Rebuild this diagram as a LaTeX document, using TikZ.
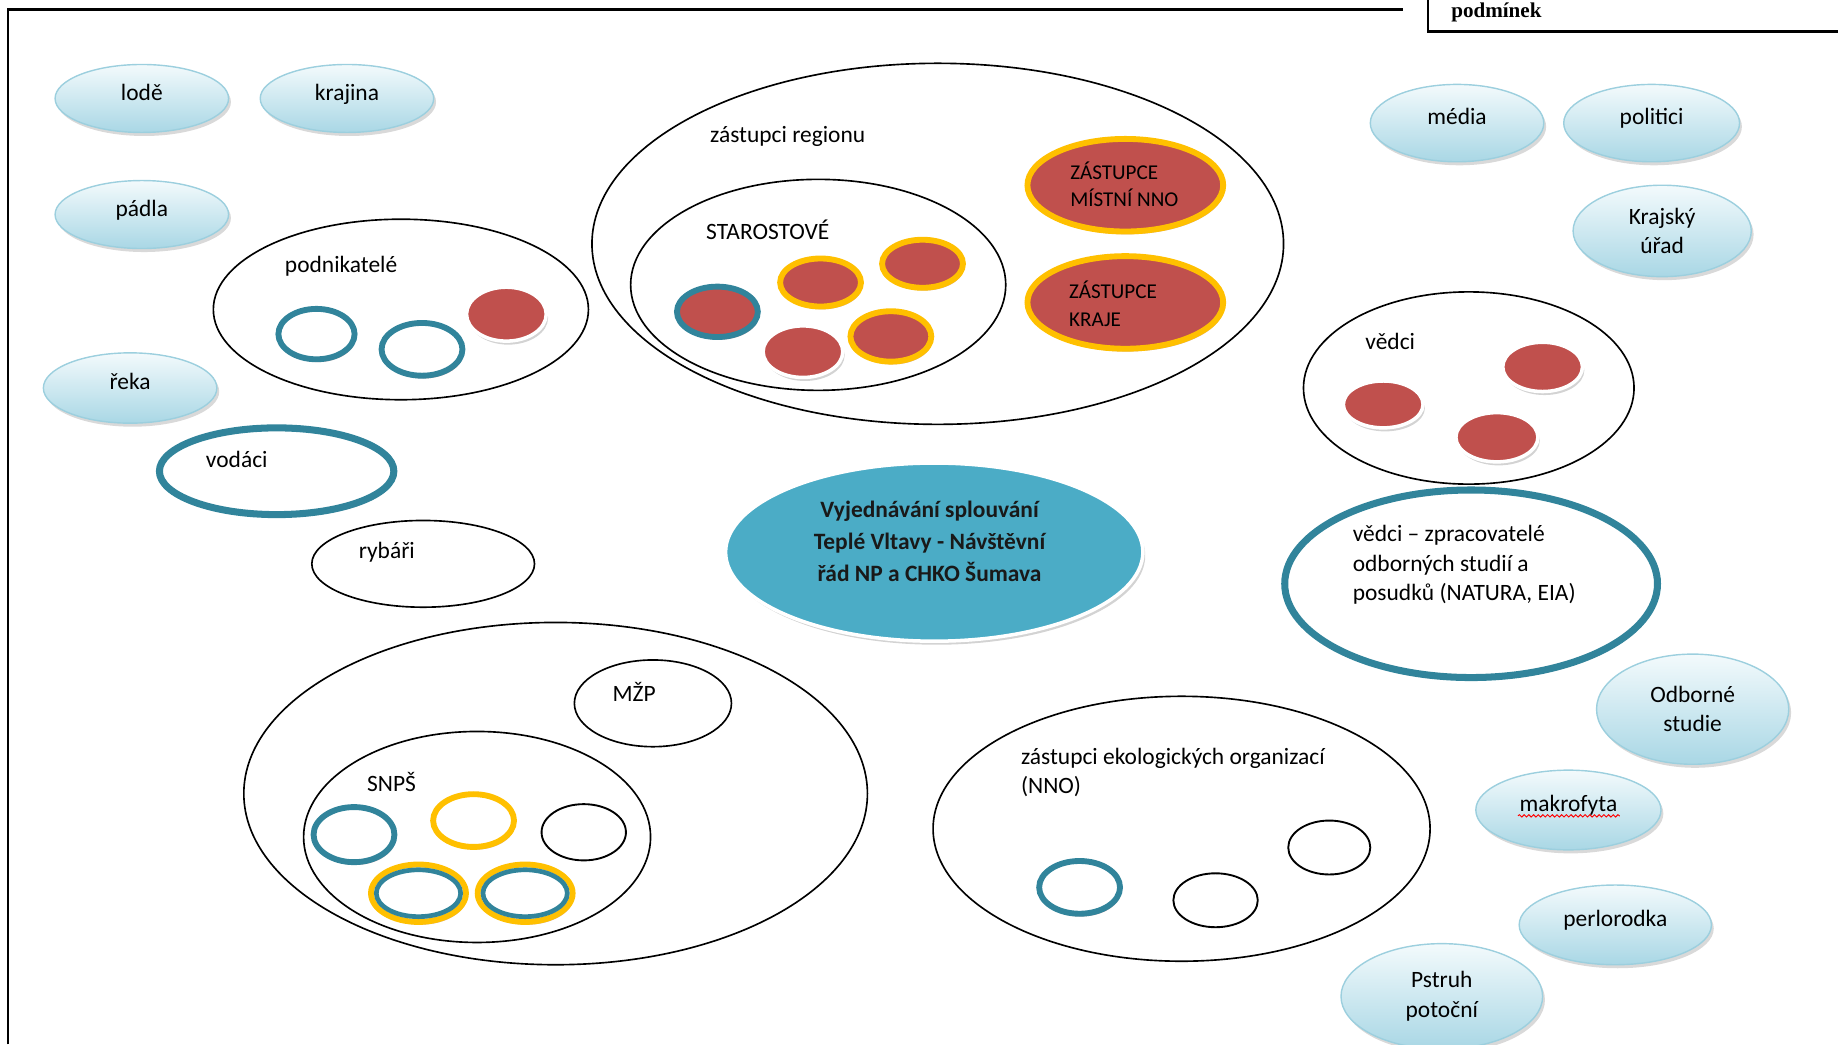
\documentclass[tikz,border=0pt]{standalone}
\usepackage{fontspec}
\setmainfont{Carlito}
\newfontfamily\timesfont{Liberation Serif}
\usetikzlibrary{shapes.geometric}
\usetikzlibrary{shadows}
\usetikzlibrary{decorations.pathmorphing}

\definecolor{tealcol}{HTML}{31849B}
\definecolor{redcol}{HTML}{C0504D}
\definecolor{goldcol}{HTML}{FFC000}
\definecolor{centercol}{HTML}{4BACC6}
\definecolor{bubbletop}{HTML}{F3FAFC}
\definecolor{bubblebot}{HTML}{A9D7E5}
\definecolor{bubbleline}{HTML}{9CCFDE}

\tikzset{
  oval/.style={ellipse, inner sep=0pt, outer sep=0pt},
  bubble/.style={oval, top color=bubbletop, bottom color=bubblebot, draw=bubbleline, line width=0.6pt, align=center,
    drop shadow={shadow xshift=1pt, shadow yshift=-1.5pt, opacity=0.3}},
  onebubble/.style={bubble, text depth=0.55em},
  group/.style={oval, draw=black, line width=0.7pt},
  ringshadow/.style={drop shadow={shadow xshift=0.6pt, shadow yshift=-1.2pt, fill=redcol!60!gray, opacity=0.45}},
  tring/.style={oval, draw=tealcol, line width=2.5pt, fill=white, ringshadow},
  gring/.style={oval, draw=goldcol, line width=2.5pt, fill=white, ringshadow},
  rdot/.style={oval, draw=white, line width=1.5pt, fill=redcol,
    drop shadow={shadow xshift=0.8pt, shadow yshift=-1.5pt, fill=gray, opacity=0.35}},
  grdot/.style={oval, draw=goldcol, line width=2.5pt, fill=redcol, ringshadow},
  trdot/.style={oval, draw=tealcol, line width=2.5pt, fill=redcol, ringshadow},
  spell/.style={draw=red, line width=0.4pt, decorate, decoration={snake, amplitude=0.5pt, segment length=2pt}}
}

\begin{document}
\begin{tikzpicture}[x=0.5pt, y=-0.5pt, font=\fontsize{10}{12.5}\selectfont]

    \useasboundingbox (0,0) rectangle (1568,891);

    % frame
    \draw[line width=1pt] (7,891) -- (7,8) -- (1197,8);
    \draw[line width=1pt] (1218,0) -- (1218,27) -- (1568,27);
    \node[font={\fontsize{9}{10}\timesfont\bfseries}, anchor=base west] (podminek) at (1231,15) {podmínek};

    % bubbles
    \node[onebubble, minimum width=74pt, minimum height=29pt] (lode) at (121,84) {lodě};
    \node[onebubble, minimum width=74pt, minimum height=29pt] (krajina) at (296,84) {krajina};
    \node[onebubble, minimum width=74pt, minimum height=29pt] (padla) at (121,183) {pádla};
    \node[onebubble, minimum width=74pt, minimum height=30pt] (reka) at (111,331) {řeka};
    \node[onebubble, minimum width=74pt, minimum height=33pt] (media) at (1243,105) {média};
    \node[onebubble, minimum width=75pt, minimum height=33pt] (politici) at (1409,105) {politici};
    \node[bubble, minimum width=76pt, minimum height=39pt] (krajsky) at (1418,197) {Krajský\\úřad};
    \node[bubble, minimum width=82pt, minimum height=47pt] (odborne) at (1444,605) {Odborné\\studie};
    \node[onebubble, minimum width=79pt, minimum height=34pt] (makrofyta) at (1338,691) {makrofyta};
    \node[onebubble, minimum width=82pt, minimum height=34pt] (perlorodka) at (1378,789) {perlorodka};
    \node[bubble, minimum width=86pt, minimum height=45pt] (pstruh) at (1230,850) {Pstruh\\potoční};
    \draw[spell] ([shift={(-21.5pt,-2.5pt)}]makrofyta.center) -- ([shift={(22pt,-2.5pt)}]makrofyta.center);

    % podnikatele
    \node[group, minimum width=160pt, minimum height=77pt] (podnikatele) at (342,264) {};
    \node (podnikateleText) at (291,227) {podnikatelé};
    \node[tring, minimum width=32.5pt, minimum height=21.5pt] (podA) at (270,285) {};
    \node[tring, minimum width=34.5pt, minimum height=22.5pt] (podB) at (360,298) {};
    \node[rdot, minimum width=34pt, minimum height=23pt] (podC) at (432,268) {};

    % zastupci regionu
    \node[group, minimum width=295pt, minimum height=154pt] (region) at (800,208) {};
    \node (regionText) at (672,116) {zástupci regionu};
    \node[group, minimum width=160pt, minimum height=90pt] (starostove) at (698,243) {};
    \node (starostoveText) at (655,196) {STAROSTOVÉ};
    \node[trdot, minimum width=34.5pt, minimum height=21.5pt] (staroA) at (612,266) {};
    \node[grdot, minimum width=34.5pt, minimum height=20.5pt] (staroB) at (700,241) {};
    \node[grdot, minimum width=34.5pt, minimum height=20.5pt] (staroC) at (787,225) {};
    \node[rdot, minimum width=34pt, minimum height=22pt] (staroD) at (685,300) {};
    \node[grdot, minimum width=34.5pt, minimum height=21.5pt] (staroE) at (760,287) {};
    \node[grdot, minimum width=83.5pt, minimum height=39.5pt] (mistni) at (960,158) {};
    \node[anchor=west, align=left, font=\fontsize{9}{11.5}\selectfont] (mistniText) at (906,157) {ZÁSTUPCE\\MÍSTNÍ NNO};
    \node[grdot, minimum width=83.5pt, minimum height=39.5pt] (kraj) at (960,258) {};
    \node[anchor=west, align=left, font=\fontsize{9}{12}\selectfont] (krajText) at (905,259) {ZÁSTUPCE\\KRAJE};

    % vodaci, rybari
    \node[tring, line width=3pt, minimum width=100pt, minimum height=37pt] (vodaci) at (236,402) {};
    \node (vodaciText) at (202,392) {vodáci};
    \node[group, minimum width=95pt, minimum height=37pt] (rybari) at (361,481) {};
    \node (rybariText) at (330,471) {rybáři};

    % vedci
    \node[group, minimum width=141pt, minimum height=82pt] (vedci) at (1253,331) {};
    \node (vedciText) at (1186,291) {vědci};
    \node[rdot, minimum width=34pt, minimum height=20pt] (vedciA) at (1180,345) {};
    \node[rdot, minimum width=34pt, minimum height=21pt] (vedciB) at (1316,313) {};
    \node[rdot, minimum width=35pt, minimum height=21pt] (vedciC) at (1277,373) {};
    \node[tring, line width=3pt, minimum width=159pt, minimum height=80pt] (zpracovatele) at (1255,498) {};
    \node[anchor=west, align=left] (zpracovateleText) at (1147,482) {vědci – zpracovatelé\\odborných studií a\\posudků (NATURA, EIA)};

    % center
    \node[oval, fill=centercol, draw=white, line width=1.5pt, minimum width=178pt, minimum height=76pt,
      drop shadow={shadow xshift=1pt, shadow yshift=-1.5pt, opacity=0.35}] (center) at (797,471) {};
    \node[align=center, font=\fontsize{10}{13.75}\selectfont\bfseries, text=black!90] (centerText) at (793,462)
      {Vyjednávání splouvání\\Teplé Vltavy - Návštěvní\\řád NP a CHKO Šumava};

    % stat
    \node[group, minimum width=266pt, minimum height=146pt] (stat) at (474,677) {};
    \node[group, minimum width=67pt, minimum height=37pt] (mzp) at (557,600) {};
    \node (mzpText) at (541,590) {MŽP};
    \node[group, minimum width=148pt, minimum height=90pt] (snps) at (407,714) {};
    \node (snpsText) at (334,667) {SNPŠ};
    \node[tring, minimum width=34.5pt, minimum height=23.5pt] (snpsA) at (302,712) {};
    \node[gring, minimum width=34.5pt, minimum height=22.5pt] (snpsB) at (404,700) {};
    \node[group, line width=0.8pt, minimum width=36pt, minimum height=24pt] (snpsC) at (498,710) {};
    \node[gring, minimum width=40.5pt, minimum height=24.5pt] (snpsD) at (357,762) {};
    \node[oval, draw=tealcol, line width=2pt, minimum width=36pt, minimum height=20pt] (snpsDin) at (snpsD) {};
    \node[gring, minimum width=40.5pt, minimum height=24.5pt] (snpsE) at (448,762) {};
    \node[oval, draw=tealcol, line width=2pt, minimum width=36pt, minimum height=20pt] (snpsEin) at (snpsE) {};

    % nno
    \node[group, minimum width=212pt, minimum height=113pt] (nno) at (1008,707) {};
    \node[anchor=west, align=left] (nnoText) at (864,659) {zástupci ekologických organizací\\(NNO)};
    \node[tring, minimum width=34.5pt, minimum height=22.5pt] (nnoA) at (921,757) {};
    \node[group, line width=0.8pt, minimum width=36pt, minimum height=23pt] (nnoB) at (1037,768) {};
    \node[group, line width=0.8pt, minimum width=35pt, minimum height=23pt] (nnoC) at (1134,723) {};

\end{tikzpicture}
\end{document}
